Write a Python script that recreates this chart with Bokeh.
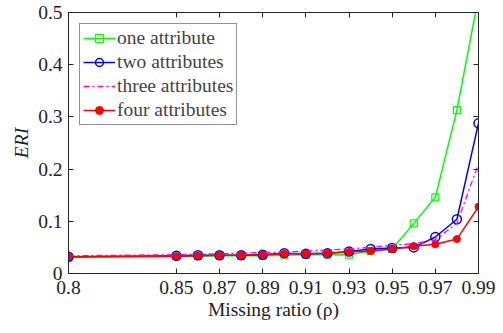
from bokeh.plotting import figure
from bokeh.models import LinearAxis, FixedTicker, Range1d
from bokeh.embed import file_html
from bokeh.resources import INLINE

x = [0.80, 0.85, 0.86, 0.87, 0.88, 0.89, 0.90, 0.91, 0.92, 0.93, 0.94, 0.95, 0.96, 0.97, 0.98, 0.99]
one_attr = [0.031, 0.033, 0.033, 0.034, 0.034, 0.034, 0.035, 0.036, 0.036, 0.036, 0.043, 0.047, 0.096, 0.146, 0.313, 0.53]
two_attr = [0.032, 0.034, 0.035, 0.035, 0.035, 0.036, 0.039, 0.038, 0.039, 0.042, 0.047, 0.049, 0.050, 0.070, 0.104, 0.288]
three_attr = [0.034, 0.036, 0.037, 0.038, 0.039, 0.040, 0.041, 0.043, 0.045, 0.047, 0.050, 0.054, 0.057, 0.065, 0.096, 0.210]
four_attr = [0.032, 0.033, 0.034, 0.035, 0.035, 0.036, 0.038, 0.038, 0.039, 0.041, 0.043, 0.047, 0.052, 0.056, 0.066, 0.128]

x_ticks = [0.8, 0.85, 0.87, 0.89, 0.91, 0.93, 0.95, 0.97, 0.99]
y_ticks = [0, 0.1, 0.2, 0.3, 0.4, 0.5]

FONT = "'Liberation Serif'"
FS = "19.5px"
AX = "#262626"

p = figure(frame_width=410, frame_height=261,
           min_border_left=68, min_border_right=25, min_border_top=12, min_border_bottom=60,
           x_range=Range1d(0.8, 0.99), y_range=Range1d(0, 0.5),
           output_backend="svg", toolbar_location=None,
           x_axis_label="Missing ratio (\u03c1)", y_axis_label="ERI")
p.background_fill_color = "white"
p.border_fill_color = "white"
p.outline_line_color = AX
p.xgrid.grid_line_color = None
p.ygrid.grid_line_color = None

p.line(x, one_attr, color="#00FF00", line_width=1.5, legend_label="one attribute")
p.scatter(x, one_attr, marker="square", size=7, fill_color=None, line_color="#00FF00",
          line_width=1.2, legend_label="one attribute")
p.line(x, two_attr, color="#0000FF", line_width=1.5, legend_label="two attributes")
p.scatter(x, two_attr, marker="circle", size=9, fill_color=None, line_color="#0000FF",
          line_width=1.5, legend_label="two attributes")
p.line(x, three_attr, color="#FF00FF", line_width=1.3, line_dash="6 3 2 3",
       legend_label="three attributes")
p.line(x, four_attr, color="#FF0000", line_width=1.5, legend_label="four attributes")
p.scatter(x, four_attr, marker="circle", size=7, fill_color="#FF0000", line_color="#FF0000",
          legend_label="four attributes")

for ax in (p.xaxis[0], p.yaxis[0]):
    ax.axis_line_color = AX
    ax.major_tick_line_color = AX
    ax.major_tick_in = 5
    ax.major_tick_out = 0
    ax.minor_tick_line_color = None
    ax.major_label_text_font = FONT
    ax.major_label_text_font_size = FS
    ax.major_label_text_color = "#222222"
    ax.axis_label_text_font = FONT
    ax.axis_label_text_font_size = FS
    ax.axis_label_text_color = "#222222"

p.xaxis[0].ticker = FixedTicker(ticks=x_ticks)
p.yaxis[0].ticker = FixedTicker(ticks=y_ticks)
p.xaxis[0].major_label_overrides = {0.8: "0.8"}
p.yaxis[0].major_label_overrides = {0: "0"}
p.xaxis[0].major_label_standoff = 7
p.yaxis[0].major_label_standoff = 6
p.xaxis[0].axis_label_standoff = 2
p.yaxis[0].axis_label_standoff = 3
p.xaxis[0].axis_label_text_font_style = "normal"
p.yaxis[0].axis_label_text_font_style = "italic"

top = LinearAxis(ticker=FixedTicker(ticks=x_ticks))
right = LinearAxis(ticker=FixedTicker(ticks=y_ticks))
top.major_label_overrides = {t: "" for t in x_ticks}
right.major_label_overrides = {t: "" for t in y_ticks}
for ax in (top, right):
    ax.axis_line_color = AX
    ax.major_tick_line_color = AX
    ax.major_tick_in = 5
    ax.major_tick_out = 0
    ax.minor_tick_line_color = None
    ax.major_label_text_font_size = "1px"
    ax.major_label_standoff = 0
p.add_layout(top, "above")
p.add_layout(right, "right")

lg = p.legend[0]
lg.location = "top_left"
lg.margin = 11
lg.padding = 3
lg.spacing = 2
lg.glyph_width = 32
lg.glyph_height = 20
lg.label_standoff = 2
lg.label_text_font = FONT
lg.label_text_font_size = FS
lg.label_height = 20
lg.border_line_color = "#262626"
lg.border_line_width = 1
lg.background_fill_alpha = 1.0

open("out.html", "w").write(file_html(p, INLINE))
